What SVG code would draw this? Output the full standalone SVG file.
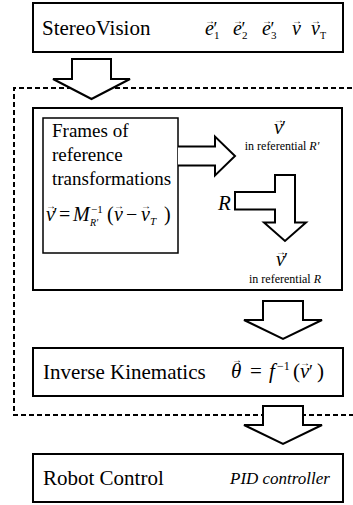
<svg xmlns="http://www.w3.org/2000/svg" width="353" height="505" viewBox="0 0 353 505">
<style>
.box{fill:#fff;stroke:#000;stroke-width:2}
.inner{fill:#fff;stroke:#000;stroke-width:1.5}
.arr{fill:#fff;stroke:#000;stroke-width:2;stroke-linejoin:miter}
.dash{fill:none;stroke:#000;stroke-width:2;stroke-dasharray:5 3}
text{font-family:'Liberation Serif','Times New Roman',serif;fill:#000}
.lbl{font-size:21px}
.it{font-style:italic}
.up{font-style:normal}
.vec{font-size:10px;font-style:normal;text-anchor:middle}
.small{font-size:12px}
</style>
<rect width="353" height="505" fill="#fff"/>
<g id="scope">
<path class="dash" d="M360,88 H14 V415 H360"/>
</g>
<g id="stereovision">
<rect class="box" x="33" y="3" width="310" height="49"/>
<text class="lbl" x="42" y="35">StereoVision</text>
<text font-size="20"><tspan class="it" x="205" y="35">e</tspan><tspan font-size="18" x="213.5" y="35">′</tspan><tspan font-size="11" x="214" y="39">1</tspan><tspan class="vec" x="210" y="24">→</tspan><tspan class="it" x="233" y="35">e</tspan><tspan font-size="18" x="241.5" y="35">′</tspan><tspan font-size="11" x="242" y="39">2</tspan><tspan class="vec" x="238" y="24">→</tspan><tspan class="it" x="262" y="35">e</tspan><tspan font-size="18" x="270.5" y="35">′</tspan><tspan font-size="11" x="271" y="39">3</tspan><tspan class="vec" x="267" y="24">→</tspan><tspan class="it" x="292" y="35">v</tspan><tspan class="vec" x="297" y="24">→</tspan><tspan class="it" x="311" y="35">v</tspan><tspan font-size="10" x="320" y="39">T</tspan><tspan class="vec" x="316" y="24">→</tspan></text>
</g>
<g id="frames-container">
<rect class="box" x="33" y="108" width="309" height="182"/>
</g>
<g id="frames">
<rect class="inner" x="43" y="118" width="135" height="135"/>
<text font-size="19" x="52" y="137">Frames of</text>
<text font-size="19" x="52" y="161">reference</text>
<text font-size="19" x="52" y="185">transformations</text>
<text font-size="20"><tspan class="it" x="46" y="221">v</tspan><tspan class="vec" x="51" y="209">→</tspan><tspan font-size="18" x="53.5" y="221">′</tspan><tspan x="59" y="221">=</tspan><tspan class="it" x="73" y="221">M</tspan><tspan font-size="11" x="91" y="213">−1</tspan><tspan class="it" font-size="10" x="90" y="226">R'</tspan><tspan x="107" y="221">(</tspan><tspan class="it" x="114" y="221">v</tspan><tspan class="vec" x="119" y="209">→</tspan><tspan x="126" y="221">−</tspan><tspan class="it" x="141" y="221">v</tspan><tspan class="vec" x="146" y="209">→</tspan><tspan class="it" font-size="11" x="150" y="225">T</tspan><tspan x="164" y="221">)</tspan></text>
</g>
<g id="v-in-Rprime">
<text font-size="20"><tspan class="it" x="274" y="134">v</tspan><tspan class="vec" x="279" y="123">→</tspan><tspan font-size="18" x="282" y="134">′</tspan></text>
<text class="small" x="282" y="150" text-anchor="middle">in referential <tspan class="it">R'</tspan></text>
</g>
<g id="v-in-R">
<text font-size="20"><tspan class="it" x="276" y="266">v</tspan><tspan class="vec" x="281" y="255">→</tspan><tspan font-size="18" x="284" y="266">′</tspan></text>
<text class="small" x="285" y="283" text-anchor="middle">in referential <tspan class="it">R</tspan></text>
</g>
<g id="inverse-kinematics">
<rect class="box" x="33" y="348" width="310" height="48"/>
<text class="lbl" x="43" y="379">Inverse Kinematics</text>
<text font-size="21"><tspan class="it" x="231" y="378">θ</tspan><tspan class="vec" x="237" y="363">→</tspan><tspan x="250" y="378">=</tspan><tspan class="it" x="269" y="378">f</tspan><tspan font-size="12" x="277" y="370">−1</tspan><tspan x="293" y="378">(</tspan><tspan class="it" x="300" y="378">v</tspan><tspan class="vec" x="305" y="366">→</tspan><tspan font-size="18" x="309" y="378">′</tspan><tspan x="317" y="378">)</tspan></text>
</g>
<g id="robot-control">
<rect class="box" x="33" y="454" width="310" height="48"/>
<text class="lbl" x="43" y="485">Robot Control</text>
<text class="it" font-size="17" x="230" y="484">PID controller</text>
</g>
<g id="connectors">
<path class="arr" d="M72,59 H111 V79 H130 L91.5,99 L53,79 H72 Z"/>
<path class="arr" d="M178,146.5 H215 V136.5 L235,156 L215,175.5 V165.5 H178"/>
<path class="arr" d="M275,175 H295 V222.5 H306 L285,241 L264,222.5 H275 V209.5 H235 V192 H275 Z"/>
<text class="it" font-size="21" x="218" y="210">R</text>
<path class="arr" d="M263,301 H303 V320 H322 L283,339 L244,320 H263 Z"/>
<path class="arr" d="M263,406 H303 V425 H322 L283,444 L244,425 H263 Z"/>
</g>
</svg>
